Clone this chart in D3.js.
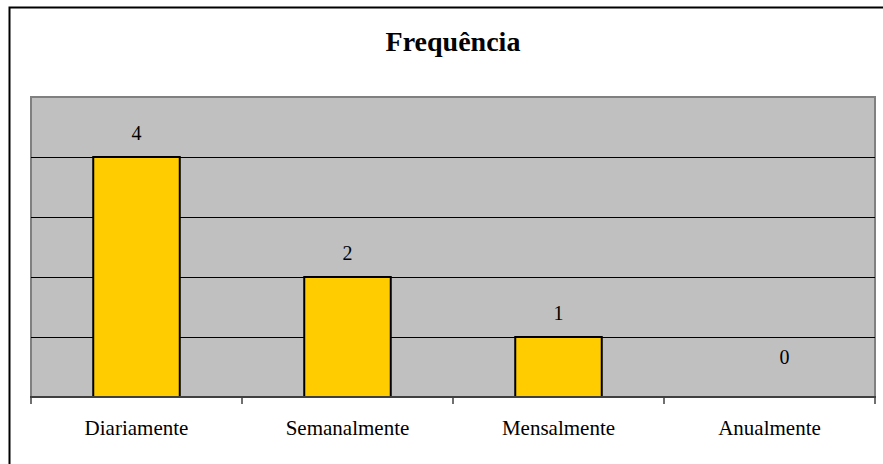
<!DOCTYPE html>
<html><head><meta charset="utf-8">
<script src="https://cdn.jsdelivr.net/npm/d3@7"></script>
<style>body{margin:0;background:#fff}svg{display:block}</style>
</head><body>
<svg id="c" width="883" height="464"></svg>
<script>
const categories = ["Diariamente", "Semanalmente", "Mensalmente", "Anualmente"];
const values = [4, 2, 1, 0];
const yTicks = [0, 1, 2, 3, 4, 5];
const title = "Frequência";

const svg = d3.select("#c");
const W = 883, H = 464;
const m = {left: 31, right: 8, top: 97, bottom: 67};
const x = d3.scaleBand().domain(categories).range([m.left, W - m.right]).paddingInner(0.59).paddingOuter(0.295);
const xb = d3.scaleBand().domain(categories).range([m.left, W - m.right]);
const y = d3.scaleLinear().domain([0, 5]).range([H - m.bottom, m.top]);
const serif = "'Liberation Serif','Times New Roman',serif";

// outer frame
svg.append("path").attr("d", `M9.5,${H+5} V7.5 H${W+5}`).attr("fill", "none").attr("stroke", "#000").attr("stroke-width", 2);

// title
svg.append("text").attr("x", 453).attr("y", 51).attr("text-anchor", "middle")
  .attr("font-family", serif).attr("font-weight", "bold")
  .attr("font-size", 28).text(title);

// plot area
svg.append("rect").attr("x", m.left).attr("y", m.top).attr("width", W - m.right - m.left).attr("height", y(0) - m.top)
  .attr("fill", "#c0c0c0").attr("stroke", "#808080").attr("stroke-width", 2);

// gridlines
svg.append("g").selectAll("line").data(yTicks.filter(t => t > 0 && t < 5)).join("line")
  .attr("x1", m.left).attr("x2", W - m.right).attr("y1", d => Math.round(y(d)) + 0.5).attr("y2", d => Math.round(y(d)) + 0.5)
  .attr("stroke", "#000").attr("stroke-width", 1);

// bars
svg.append("g").selectAll("rect").data(values).join("rect")
  .attr("x", (d, i) => x(categories[i])).attr("width", x.bandwidth())
  .attr("y", d => y(d)).attr("height", d => y(0) - y(d))
  .attr("fill", d => d > 0 ? "#ffcc00" : "none").attr("stroke", d => d > 0 ? "#000" : "none").attr("stroke-width", 2);

// x axis
const ax = svg.append("g").attr("transform", `translate(0,${y(0)})`);
ax.append("line").attr("x1", m.left - 1).attr("x2", W - m.right + 1).attr("stroke", "#404040").attr("stroke-width", 2);
ax.selectAll("line.t").data(categories.concat(["__end"])).join("line").attr("class", "t")
  .attr("x1", (d, i) => i < 4 ? xb(d) : W - m.right).attr("x2", (d, i) => i < 4 ? xb(d) : W - m.right)
  .attr("y1", 0).attr("y2", 7).attr("stroke", "#404040").attr("stroke-width", 1.5);
ax.selectAll("text").data(categories).join("text")
  .attr("x", d => xb(d) + xb.bandwidth() / 2).attr("y", 38).attr("text-anchor", "middle")
  .attr("font-family", serif).attr("font-size", 21).attr("fill", "#000").text(d => d);

// value labels
svg.append("g").selectAll("text").data(values).join("text")
  .attr("x", (d, i) => xb(categories[i]) + xb.bandwidth() / 2 + (d === 0 ? 15 : 0))
  .attr("y", d => y(d) - 17 - (d === 0 ? 16 : 0)).attr("text-anchor", "middle")
  .attr("font-family", serif).attr("font-size", 20).attr("fill", "#000").text(d => d);
</script>
</body></html>
